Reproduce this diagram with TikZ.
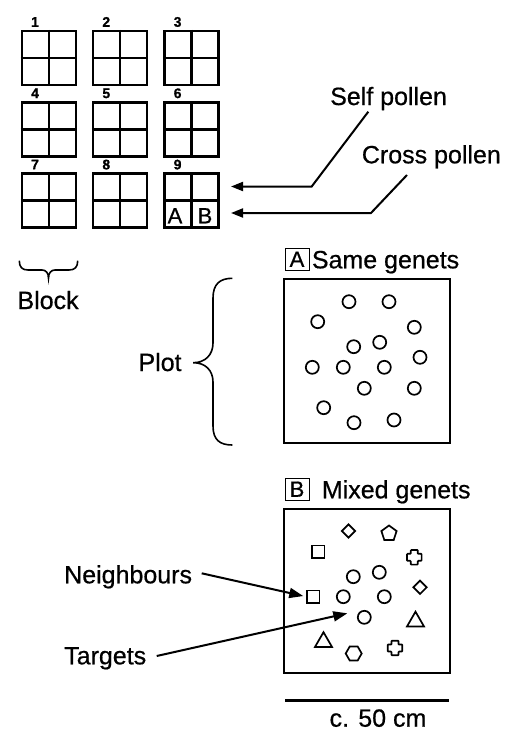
\documentclass[tikz,border=0pt]{standalone}
\usepackage{fontspec}
\setmainfont{Liberation Sans}[FakeBold=0.6]
\usetikzlibrary{arrows.meta,shapes.geometric,calc}
\begin{document}
\begin{tikzpicture}[x=1pt,y=-1pt,
  blk/.style={draw,line width=2.4pt,minimum width=54pt,minimum height=54pt,inner sep=0pt},
  num/.style={font=\fontsize{14}{16}\selectfont\bfseries,anchor=base,inner sep=0pt},
  lbl/.style={font=\fontsize{25}{30}\selectfont,anchor=base west,inner sep=0pt},
  big/.style={font=\fontsize{22}{26}\selectfont,inner sep=0pt},
  arr/.style={line width=2pt,-{Triangle[length=12pt,width=9pt]}},
  arrb/.style={line width=2pt,-{Triangle[length=14pt,width=10pt]}},
  frame/.style={draw,line width=2.2pt,minimum width=166pt,minimum height=164pt,inner sep=0pt},
  tag/.style={draw,line width=1pt,minimum width=24pt,minimum height=22pt,inner sep=0pt,font=\fontsize{22}{26}\selectfont},
  circ/.style={circle,draw,line width=1.7pt,minimum size=13pt,inner sep=0pt},
  sq/.style={rectangle,draw,line width=1.7pt,minimum size=12.5pt,inner sep=0pt},
  dia/.style={diamond,draw,line width=1.7pt,minimum width=14pt,minimum height=14pt,inner sep=0pt},
  pent/.style={regular polygon,regular polygon sides=5,draw,line width=1.7pt,minimum size=16pt,inner sep=0pt},
  tri/.style={regular polygon,regular polygon sides=3,draw,line width=1.7pt,minimum size=19.6pt,inner sep=0pt},
  hexa/.style={regular polygon,regular polygon sides=6,draw,line width=1.7pt,minimum size=16pt,inner sep=0pt},
  bracestyle/.style={line width=1.6pt},
  plusmark/.pic={\draw[line width=1.7pt,rounded corners=0.7pt] (-3.5,-7.3) -- (3.5,-7.3) -- (3.5,-3.5) -- (7.3,-3.5) -- (7.3,3.5) -- (3.5,3.5) -- (3.5,7.3) -- (-3.5,7.3) -- (-3.5,3.5) -- (-7.3,3.5) -- (-7.3,-3.5) -- (-3.5,-3.5) -- cycle;}
]
\useasboundingbox (0,0) rectangle (506,731);

% blocks
\foreach \r in {0,1,2} {
  \foreach \c in {0,1,2} {
    \pgfmathtruncatemacro\kk{3*\r+\c+1}
    \node[blk] (b\kk) at ({48.7+71.3*\c},{58+71.3*\r}) {};
    \draw[line width=2.4pt] (b\kk.north) -- (b\kk.south) (b\kk.west) -- (b\kk.east);
    \node[num] (n\kk) at ($(b\kk.north west)+(14.5,-3)$) {\kk};
  }
}
\node[big,anchor=base] (la) at (175,223.3) {A};
\node[big,anchor=base] (lb) at (205,223.3) {B};

% pollen arrows
\node[lbl] (selfp) at (330,105) {Self pollen};
\node[lbl] (crossp) at (361.7,163.3) {Cross pollen};
\coordinate (sp) at (368.3,111.7);
\coordinate (cp) at (407,175);
\coordinate (tip1) at (231,186.5);
\coordinate (tip2) at (231,213);
\draw[arr] (sp) -- (311.7,186.5) -- (tip1);
\draw[arr] (cp) -- (371,213) -- (tip2);

% block brace
\draw[bracestyle] (19.3,260.7) .. controls (19.3,267) and (22,270) .. (28,270) -- (42,270)
  .. controls (46,270) and (48.5,273) .. (48.5,278.3)
  .. controls (48.5,273) and (51,270) .. (55,270) -- (69,270)
  .. controls (75,270) and (77.7,267) .. (77.7,260.7);
\node[lbl] (blocklbl) at (17.3,309) {Block};

% plot brace
\draw[bracestyle] (232.3,278.3) .. controls (220,278.3) and (213,284) .. (213,298) -- (213,343)
  .. controls (213,355) and (205,362.7) .. (193.3,362.7)
  .. controls (205,362.7) and (213,370) .. (213,382) -- (213,426)
  .. controls (213,440) and (220,445) .. (232.3,445);
\node[lbl] (plotlbl) at (138.3,371) {Plot};

% panel A
\node[tag] (tagA) at (297,259.2) {A};
\node[lbl] (same) at (311.7,268.3) {Same genets};
\node[frame] (frA) at (367,361.3) {};
\foreach \p [count=\i] in {(349,301.7),(389,301.7),(317.7,321.7),(414.3,327.3),(353.7,346.7),(379.7,342.3),(420,357.3),(312.3,367.3),(343.3,367.3),(384.3,367.3),(364.3,388.3),(414.3,388.3),(323.7,407.7),(354,422.7),(394,420)}
  \node[circ] (ca\i) at \p {};

% panel B
\node[tag] (tagB) at (297,489.2) {B};
\node[lbl] (mixed) at (321.7,498.3) {Mixed genets};
\node[frame,minimum height=163.4pt] (frB) at (367,591) {};
\node[dia] (d1) at (348.5,531) {};
\node[pent] (p1) at (389,533.5) {};
\node[sq] (s1) at (318.3,551.7) {};
\pic at (414.3,557.3) {plusmark};
\node[circ] (cb1) at (353.3,576.7) {};
\node[circ] (cb2) at (379.3,572.3) {};
\node[dia] (d2) at (420,587.3) {};
\node[sq] (nb) at (313.3,596.7) {};
\node[circ] (cb3) at (343.3,596.7) {};
\node[circ] (cb4) at (384.3,596.7) {};
\node[circ] (cb5) at (364.3,617.3) {};
\node[tri] (t1) at (415.5,621.5) {};
\node[tri] (t2) at (323.5,642) {};
\node[hexa] (h1) at (353.7,653.5) {};
\pic at (395,648) {plusmark};

% neighbours / targets
\node[lbl] (neigh) at (64,583.3) {Neighbours};
\node[lbl] (targ) at (64,664.3) {Targets};
\coordinate (ns) at (201.7,573.3);
\coordinate (ts) at (156.7,656);
\coordinate (tt) at (347.3,613.3);
\draw[arrb,shorten >=3pt] (ns) -- (nb.west);
\draw[arrb] (ts) -- (tt);

% scale bar
\coordinate (sb1) at (285,700.7);
\coordinate (sb2) at (449,700.7);
\draw[line width=3.5pt] (sb1) -- (sb2);
\node[lbl,anchor=base] (scale) at (378,726.7) {c. 50 cm};
\end{tikzpicture}
\end{document}
